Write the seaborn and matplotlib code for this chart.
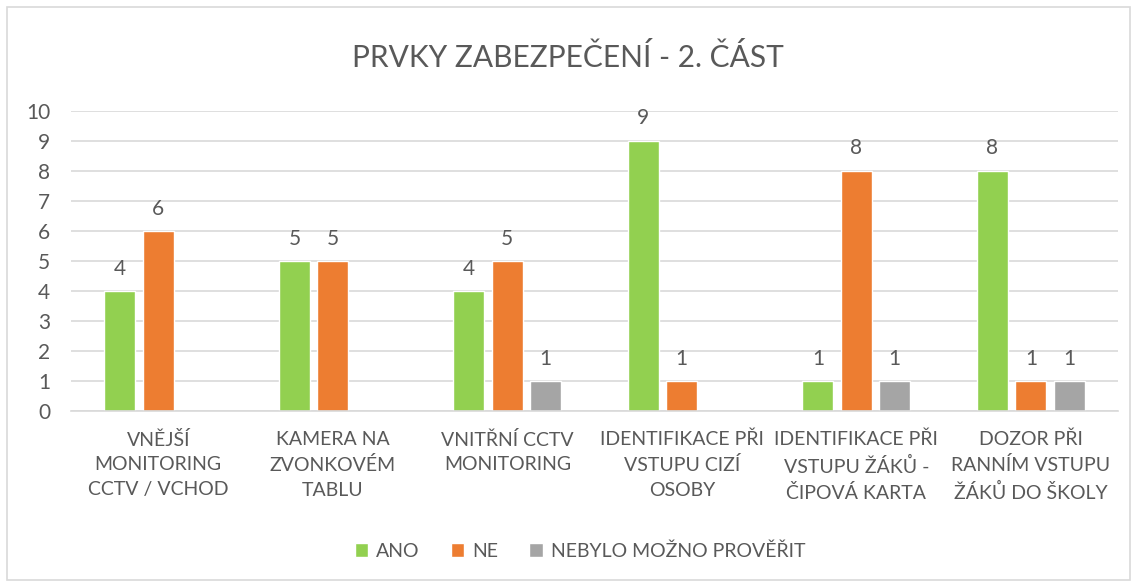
import pandas as pd
import numpy as np
import seaborn as sns
import matplotlib.pyplot as plt
from matplotlib.patches import Rectangle

# Data
kategorie = ['VNĚJŠÍ\nMONITORING\nCCTV / VCHOD',
             'KAMERA NA\nZVONKOVÉM\nTABLU',
             'VNITŘNÍ CCTV\nMONITORING',
             'IDENTIFIKACE PŘI\nVSTUPU CIZÍ\nOSOBY',
             'IDENTIFIKACE PŘI\nVSTUPU ŽÁKŮ -\nČIPOVÁ KARTA',
             'DOZOR PŘI\nRANNÍM VSTUPU\nŽÁKŮ DO ŠKOLY']
ano = [4, 5, 4, 9, 1, 8]
ne = [6, 5, 5, 1, 8, 1]
neproveritelne = [np.nan, np.nan, 1, np.nan, 1, 1]
serie = ['ANO', 'NE', 'NEBYLO MOŽNO PROVĚŘIT']
barvy = ['#92D050', '#ED7D31', '#A5A5A5']

df = pd.DataFrame({'kategorie': kategorie, 'ANO': ano, 'NE': ne,
                   'NEBYLO MOŽNO PROVĚŘIT': neproveritelne})
df = df.melt(id_vars='kategorie', var_name='serie', value_name='pocet')
df = df.dropna()

sns.set_style('white')
plt.rcParams['font.family'] = ['Lato', 'DejaVu Sans']
text_color = '#595959'

fig = plt.figure(figsize=(11.35, 5.84), dpi=100)
ax = fig.add_axes([0.0626, 0.296, 0.9225, 0.514])

sns.barplot(data=df, x='kategorie', y='pocet', hue='serie', order=kategorie,
            hue_order=serie, palette=barvy, width=0.661, gap=0.195,
            saturation=1, ax=ax, legend=True)

for cont in ax.containers:
    ax.bar_label(cont, fmt='%g', padding=9, fontsize=15, color=text_color)

ax.set_ylim(0, 10)
ax.set_yticks(range(0, 11))
ax.yaxis.grid(True, color='#D9D9D9', linewidth=1.2)
ax.set_axisbelow(True)
for s in ['top', 'right', 'left']:
    ax.spines[s].set_visible(False)
ax.spines['bottom'].set_color('#D9D9D9')
ax.spines['bottom'].set_linewidth(1.2)
ax.tick_params(axis='both', length=0, colors=text_color)
ax.tick_params(axis='y', labelsize=15, pad=15)
ax.tick_params(axis='x', labelsize=14, pad=14)
for lbl in ax.get_xticklabels():
    lbl.set_linespacing(1.55)
ax.set_xlabel('')
ax.set_ylabel('')

fig.text(0.5, 0.902, 'PRVKY ZABEZPEČENÍ - 2. ČÁST', ha='center', va='center',
         fontsize=21.5, color=text_color)

ax.legend(loc='center', bbox_to_anchor=(0.511, 0.056), bbox_transform=fig.transFigure,
          ncol=3, frameon=False, fontsize=14, handlelength=0.7, handleheight=0.7,
          handletextpad=0.4, columnspacing=1.6, labelcolor=text_color)

fig.patches.append(Rectangle((0.006, 0.006), 0.99, 0.982, transform=fig.transFigure,
                             fill=False, edgecolor='#D9D9D9', linewidth=1.2))

plt.savefig('out.png', dpi=100)
